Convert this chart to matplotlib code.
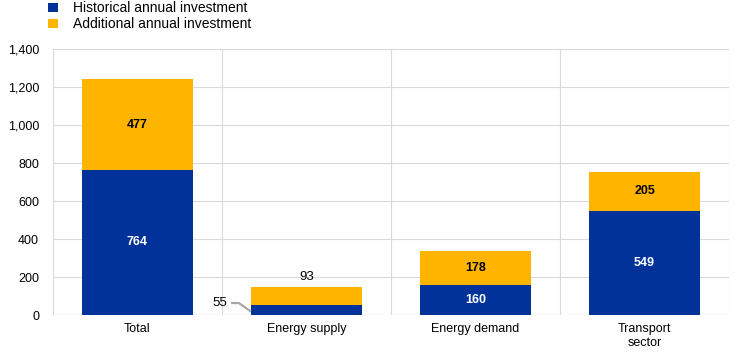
import matplotlib.pyplot as plt
import numpy as np

plt.rcParams['font.family'] = ['Liberation Sans', 'DejaVu Sans']

categories = ['Total', 'Energy supply', 'Energy demand', 'Transport\nsector']
historical = [764, 55, 160, 549]
additional = [477, 93, 178, 205]

blue = '#003299'
orange = '#FFB400'
grid_col = '#d9d9d9'

fig = plt.figure(figsize=(7.44, 3.57), dpi=100)
ax = fig.add_axes([0.0712, 0.1176, 0.9088, 0.7451])

x = np.arange(len(categories))
w = 0.66
ax.bar(x, historical, w, color=blue, label='Historical annual investment', zorder=3)
ax.bar(x, additional, w, bottom=historical, color=orange, label='Additional annual investment', zorder=3)

ax.set_xlim(-0.5, len(categories) - 0.5)
ax.set_ylim(0, 1400)
ax.set_yticks(range(0, 1401, 200))
ax.set_yticklabels([f'{v:,}' for v in range(0, 1401, 200)])
ax.set_xticks(x)
ax.set_xticklabels(categories)

# grid: horizontal lines + separators between categories
ax.yaxis.grid(True, color=grid_col, lw=0.8, zorder=0)
for b in np.arange(-0.5, len(categories), 1):
    ax.axvline(b, color=grid_col, lw=0.8, zorder=0)
for s in ax.spines.values():
    s.set_visible(False)
ax.axhline(0, color=grid_col, lw=0.8, zorder=1)
ax.tick_params(length=0, labelsize=9, colors='#000000')
ax.tick_params(axis='y', pad=10)
ax.tick_params(axis='x', pad=6)

for i in range(len(categories)):
    h, a = historical[i], additional[i]
    if h >= 100:
        ax.text(i, h / 2, str(h), ha='center', va='center', color='white',
                fontsize=9, fontweight='bold', zorder=4)
    if a >= 150:
        ax.text(i, h + a / 2, str(a), ha='center', va='center', color='black',
                fontsize=9, fontweight='bold', zorder=4)

# small segments labelled outside
i = 1
ax.text(i, historical[i] + additional[i] + 50, str(additional[i]), ha='center',
        va='center', fontsize=9.5, zorder=4)
ax.plot([i - 0.44, i - 0.40, i - w / 2 - 0.005], [63, 63, 22], color='#a6a6a6', lw=1.6, zorder=4)
ax.text(i - 0.47, 63, str(historical[i]), ha='right', va='center', fontsize=9.5, zorder=4)

ax.legend(loc='upper left', bbox_to_anchor=(-0.015, 1.2), frameon=False, fontsize=10,
          handlelength=0.7, handleheight=0.7, handletextpad=1.1, labelspacing=0.15,
          borderaxespad=0)

fig.savefig('out.png', dpi=100)
